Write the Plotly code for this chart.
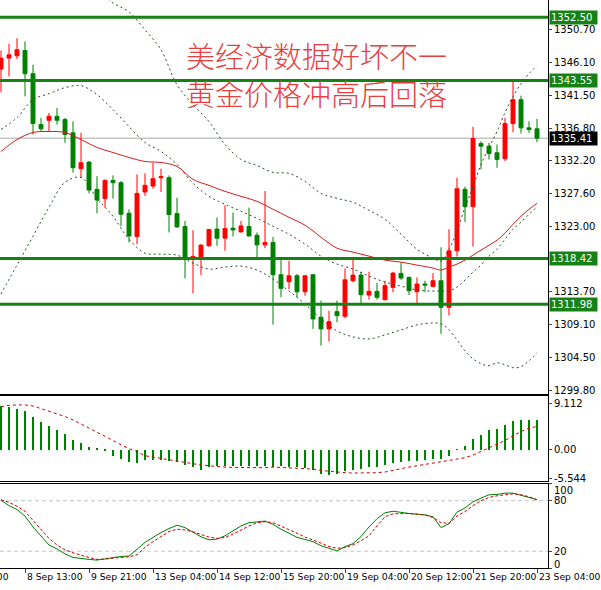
import plotly.graph_objects as go

# H4 candles, bar index 0..67 (red = up, green = down)
opens = [1345.17, 1346.72, 1347.04, 1347.79, 1344.51, 1337.33, 1337.94, 1338.50, 1338.04, 1336.16,
         1331.10, 1332.03, 1328.19, 1326.88, 1329.45, 1329.13, 1324.81, 1321.53, 1327.81, 1328.65,
         1329.83, 1329.83, 1324.77, 1322.94, 1318.43, 1318.66, 1320.21, 1322.58, 1321.29, 1322.70,
         1322.18, 1322.94, 1321.71, 1320.35, 1320.69, 1316.13, 1315.14, 1315.98, 1313.73, 1316.13,
         1310.13, 1308.48, 1310.92, 1310.27, 1315.28, 1316.08, 1313.27, 1313.79, 1312.61, 1314.35,
         1316.32, 1315.76, 1313.73, 1314.82, 1314.49, 1315.28, 1311.54, 1319.50, 1328.19, 1325.75,
         1334.66, 1334.28, 1333.35, 1332.51, 1337.47, 1340.85, 1336.87, 1336.73]
highs = [1347.79, 1348.73, 1349.53, 1349.06, 1345.78, 1338.28, 1338.98, 1339.68, 1338.28, 1337.80,
         1336.16, 1332.17, 1330.06, 1329.60, 1330.16, 1329.35, 1325.37, 1330.30, 1330.44, 1331.94,
         1331.10, 1330.16, 1327.02, 1323.72, 1322.42, 1320.45, 1322.60, 1324.20, 1325.93, 1324.91,
         1323.72, 1325.61, 1322.10, 1327.95, 1321.47, 1318.57, 1318.10, 1316.22, 1316.08, 1316.13,
         1312.47, 1311.06, 1312.47, 1317.02, 1318.34, 1316.55, 1316.55, 1314.96, 1315.28, 1316.55,
         1317.87, 1315.85, 1315.76, 1315.28, 1316.36, 1320.00, 1322.56, 1329.83, 1328.57, 1337.01,
         1334.98, 1334.76, 1334.52, 1338.28, 1343.57, 1341.41, 1337.80, 1338.13]
lows = [1341.88, 1344.13, 1346.58, 1341.32, 1335.93, 1336.39, 1336.39, 1337.33, 1334.76, 1330.54,
        1329.83, 1327.62, 1324.81, 1325.61, 1326.88, 1323.02, 1320.68, 1320.45, 1327.24, 1328.28,
        1327.81, 1322.10, 1322.80, 1315.62, 1313.51, 1316.08, 1320.10, 1320.21, 1319.50, 1321.53,
        1322.10, 1321.53, 1318.34, 1319.88, 1309.09, 1312.95, 1314.11, 1312.95, 1313.17, 1308.48,
        1306.13, 1306.70, 1309.43, 1309.99, 1315.06, 1312.14, 1312.61, 1312.61, 1312.50, 1313.65,
        1315.42, 1313.27, 1312.14, 1313.65, 1314.35, 1307.78, 1310.36, 1318.71, 1323.58, 1320.12,
        1331.00, 1332.41, 1331.24, 1332.17, 1336.25, 1336.07, 1336.16, 1334.84]
closes = [1346.72, 1347.18, 1347.89, 1344.51, 1337.47, 1336.73, 1338.50, 1337.94, 1335.93, 1331.24,
          1331.94, 1328.09, 1326.68, 1329.45, 1329.13, 1324.67, 1321.61, 1327.62, 1328.75, 1329.69,
          1329.97, 1324.63, 1322.88, 1318.43, 1318.72, 1320.31, 1322.52, 1321.29, 1322.65, 1322.46,
          1323.02, 1321.61, 1320.35, 1320.69, 1316.13, 1314.21, 1315.98, 1313.73, 1315.98, 1309.89,
          1308.48, 1309.51, 1310.36, 1315.42, 1316.08, 1313.31, 1313.79, 1312.94, 1314.58, 1316.36,
          1315.66, 1313.87, 1314.82, 1314.68, 1315.28, 1311.54, 1319.50, 1328.28, 1325.75, 1335.36,
          1334.28, 1333.25, 1332.41, 1337.47, 1340.85, 1336.87, 1336.63, 1335.41]
bars = list(range(len(closes)))

# indicator lines at these bars
band_idx = list(range(0, 55, 2)) + list(range(55, 68))
bb_upper = [1359.85, 1359.15, 1360.13, 1357.74, 1355.91, 1355.77, 1356.19, 1354.50, 1353.24, 1350.70,
            1347.89, 1342.96, 1340.15, 1337.75, 1334.52, 1332.41, 1331.56, 1330.58, 1330.44, 1329.31,
            1327.62, 1326.92, 1326.36, 1325.23, 1323.96, 1321.85, 1319.74, 1318.47,
            1318.05, 1319.74, 1322.27, 1325.65, 1328.47, 1331.70, 1334.10, 1336.35, 1339.02, 1341.27,
            1343.10, 1344.51, 1345.64]
bb_mid = [1336.63, 1338.32, 1340.85, 1341.70, 1342.54, 1342.82, 1341.55, 1339.44, 1337.05, 1334.80,
          1333.53, 1331.70, 1329.03, 1327.20, 1326.07, 1325.09, 1324.10, 1322.98, 1321.85, 1320.45,
          1318.76, 1317.63, 1316.93, 1315.94, 1315.10, 1314.53, 1313.97, 1313.83,
          1313.83, 1313.83, 1314.39, 1315.38, 1316.50, 1317.49, 1318.76, 1319.74, 1321.15, 1322.56,
          1323.54, 1324.67, 1325.65]
bb_lower = [1313.41, 1317.49, 1321.57, 1325.65, 1329.17, 1329.87, 1326.92, 1324.39, 1321.15, 1319.18,
            1319.04, 1318.90, 1317.77, 1316.93, 1317.21, 1317.35, 1316.79, 1315.52, 1313.83, 1312.00,
            1309.89, 1308.20, 1307.36, 1307.07, 1307.64, 1308.34, 1309.05, 1309.33,
            1309.19, 1308.34, 1306.93, 1305.38, 1304.26, 1303.56, 1303.28, 1303.70, 1303.42, 1303.00,
            1303.14, 1303.98, 1305.11]
ma_red = [1333.53, 1335.22, 1336.21, 1336.35, 1336.21, 1335.22, 1334.10, 1333.39, 1332.69, 1332.12,
          1331.98, 1331.42, 1329.59, 1328.75, 1327.90, 1327.20, 1326.50, 1325.37, 1324.24, 1323.12,
          1321.43, 1319.88, 1319.32, 1318.76, 1318.19, 1317.91, 1317.49, 1317.07,
          1316.79, 1317.21, 1317.63, 1318.19, 1318.90, 1319.60, 1320.30, 1321.01, 1322.00, 1323.26,
          1324.39, 1325.37, 1326.21]

macd_hist = [8.46, 8.27, 8.01, 7.49, 6.32, 5.40, 4.56, 3.78, 3.13, 1.95,
             1.30, 0.46, 0.20, -0.26, -1.17, -1.82, -2.34, -2.60, -1.95, -2.08,
             -2.08, -2.28, -2.47, -2.93, -3.39, -3.91, -3.39, -3.26, -3.26, -3.26,
             -3.26, -3.26, -3.26, -3.26, -3.35, -3.26, -3.39, -3.39, -3.58, -4.04,
             -4.69, -4.88, -4.75, -4.23, -3.91, -3.78, -3.45, -3.45, -2.93, -2.60,
             -2.41, -2.28, -2.15, -1.95, -1.82, -1.76, -1.30, -0.07, 0.65, 2.08,
             2.93, 3.78, 4.10, 4.88, 5.66, 5.86, 5.86, 5.86]
macd_signal = [8.46, 8.72, 8.79, 8.79, 8.59, 8.07, 7.68, 7.16, 6.51, 5.86,
               5.08, 4.23, 3.39, 2.60, 1.82, 0.98, 0.20, -0.33, -1.17, -1.43,
               -1.69, -1.95, -2.28, -2.47, -2.73, -2.99, -3.13, -3.32, -3.39, -3.45,
               -3.45, -3.52, -3.58, -3.52, -3.39, -3.45, -3.45, -3.52, -3.58, -3.78,
               -4.04, -4.23, -4.43, -4.49, -4.56, -4.56, -4.56, -4.49, -4.36, -4.04,
               -3.58, -3.39, -3.13, -2.86, -2.60, -2.34, -2.08, -1.82, -1.56, -1.04,
               -0.33, 0.33, 0.98, 1.82, 2.73, 3.58, 4.23, 4.56]
stoch_main = [80.4, 74.2, 69.5, 61.7, 48.8, 37.5, 27.4, 22.7, 16.9, 12.6,
              11.0, 10.3, 9.5, 11.0, 12.6, 13.8, 14.2, 22.7, 30.5, 36.4,
              42.2, 46.9, 50.8, 48.1, 42.2, 37.1, 33.6, 34.4, 38.3, 44.2,
              50.0, 53.9, 54.7, 55.8, 51.9, 46.1, 41.4, 36.4, 34.0, 31.3,
              26.6, 23.1, 20.4, 25.5, 29.0, 37.5, 48.8, 58.6, 65.6, 67.5,
              66.0, 64.8, 64.0, 63.2, 60.9, 48.1, 52.7, 66.4, 71.4, 78.8,
              83.1, 87.0, 87.4, 89.0, 89.0, 86.6, 84.3, 81.2]
stoch_signal = [81.2, 78.0, 73.4, 67.5, 56.6, 46.1, 35.2, 27.4, 21.6, 18.1,
                14.9, 12.6, 10.3, 10.6, 11.8, 13.0, 13.4, 15.7, 24.7, 31.3,
                37.5, 43.4, 46.1, 45.3, 43.0, 40.3, 36.8, 35.2, 36.4, 40.3,
                45.3, 50.0, 53.9, 55.1, 53.9, 50.0, 45.3, 41.4, 36.8, 33.6,
                29.7, 25.5, 23.5, 24.3, 27.4, 32.5, 38.3, 50.0, 60.9, 64.4,
                64.8, 64.8, 64.0, 62.9, 60.1, 53.9, 53.1, 61.7, 67.1, 74.2,
                80.0, 83.9, 85.8, 87.4, 88.2, 87.0, 84.7, 81.2]

tick_idx = [3, 11, 19, 27, 35, 43, 51, 59, 67]
tick_text = ["8 Sep 13:00", "9 Sep 21:00", "13 Sep 04:00", "14 Sep 12:00", "15 Sep 20:00",
             "19 Sep 04:00", "20 Sep 12:00", "21 Sep 20:00", "23 Sep 04:00"]
price_ticks = [1350.70, 1346.10, 1341.50, 1336.80, 1332.20, 1327.60, 1323.00,
               1313.70, 1309.10, 1304.50, 1299.80]
levels = [1352.50, 1343.55, 1318.42, 1311.98]
last_price = 1335.41
stoch_ticks = [80, 20]
title_lines = ["美经济数据好坏不一", "黄金价格冲高后回落"]

RED = "#ff0000"
GREEN = "#008000"
LEVEL_GREEN = "#168216"
H = 590.0
FONT = "DejaVu Sans"

fig = go.Figure()

fig.add_trace(go.Candlestick(
    x=bars, open=opens, high=highs, low=lows, close=closes,
    increasing=dict(line=dict(color=RED, width=1), fillcolor=RED),
    decreasing=dict(line=dict(color=GREEN, width=1), fillcolor=GREEN),
    whiskerwidth=0, hoverinfo="skip", xaxis="x", yaxis="y"))

for band in (bb_upper, bb_mid, bb_lower):
    fig.add_trace(go.Scatter(x=band_idx, y=band, mode="lines", line_shape="spline",
                             line=dict(color="#2a4f2a", width=1, dash="2px,3px"),
                             hoverinfo="skip", xaxis="x", yaxis="y"))
fig.add_trace(go.Scatter(x=band_idx, y=ma_red, mode="lines", line_shape="spline",
                         line=dict(color="#d81e1e", width=1), hoverinfo="skip",
                         xaxis="x", yaxis="y"))

fig.add_trace(go.Bar(x=bars, y=macd_hist, width=0.13, marker=dict(color=GREEN, line=dict(width=0)),
                     hoverinfo="skip", xaxis="x2", yaxis="y2"))
fig.add_trace(go.Scatter(x=bars, y=macd_signal, mode="lines",
                         line=dict(color="#d00000", width=1, dash="dot"),
                         hoverinfo="skip", xaxis="x2", yaxis="y2"))

fig.add_trace(go.Scatter(x=bars, y=stoch_main, mode="lines",
                         line=dict(color=GREEN, width=1), hoverinfo="skip",
                         xaxis="x3", yaxis="y3"))
fig.add_trace(go.Scatter(x=bars, y=stoch_signal, mode="lines",
                         line=dict(color="#d00000", width=1, dash="3px,2px"),
                         hoverinfo="skip", xaxis="x3", yaxis="y3"))

shapes = []
for lv in levels:
    shapes.append(dict(type="line", xref="paper", yref="y", x0=0, x1=1, y0=lv, y1=lv,
                       line=dict(color=LEVEL_GREEN, width=3)))
shapes.append(dict(type="line", xref="paper", yref="y", x0=0, x1=1, y0=last_price, y1=last_price,
                   line=dict(color="#a8a8a8", width=1), layer="below"))
for lv in stoch_ticks:
    shapes.append(dict(type="line", xref="paper", yref="y3", x0=0, x1=1, y0=lv, y1=lv,
                       line=dict(color="#c4c4c4", width=1, dash="4px,3px"), layer="below"))

annotations = []
annotations.append(dict(xref="paper", yref="paper", x=316 / 548, y=1 - 74 / H,
                        text="<br>".join(title_lines), showarrow=False,
                        xanchor="center", yanchor="middle", align="center",
                        font=dict(family="Noto Sans CJK SC", size=29, color="#e8403f",
                                  weight=300)))
for lv in levels:
    annotations.append(dict(xref="paper", yref="y", x=1, y=lv, xanchor="left", yanchor="middle",
                            text=f"{lv:.2f}", showarrow=False, xshift=1, width=45, align="left",
                            bgcolor=LEVEL_GREEN, borderpad=1,
                            font=dict(family=FONT, size=10, color="white")))
annotations.append(dict(xref="paper", yref="y", x=1, y=last_price, xanchor="left", yanchor="middle",
                        text=f"{last_price:.2f}", showarrow=False, xshift=1, width=45, align="left",
                        bgcolor="black", borderpad=1,
                        font=dict(family=FONT, size=10, color="white")))
for k, t in zip(tick_idx, tick_text):
    annotations.append(dict(xref="x3", yref="paper", x=k, y=1 - 578 / H, text=t, showarrow=False,
                            xanchor="left", yanchor="middle", xshift=0,
                            font=dict(family=FONT, size=9.2, color="black")))
annotations.append(dict(xref="paper", yref="paper", x=11 / 548, y=1 - 578 / H, text="7 Sep 05:00",
                        showarrow=False, xanchor="right", yanchor="middle",
                        font=dict(family=FONT, size=9.2, color="black")))
# top and bottom stochastic labels sit just inside the panel edges
annotations.append(dict(xref="paper", yref="paper", x=1, y=1 - 492 / H, text="100",
                        showarrow=False, xanchor="left", yanchor="middle", xshift=4,
                        font=dict(family=FONT, size=10, color="black")))
annotations.append(dict(xref="paper", yref="paper", x=1, y=1 - 566 / H, text="0",
                        showarrow=False, xanchor="left", yanchor="middle", xshift=4,
                        font=dict(family=FONT, size=10, color="black")))

axis_common = dict(showgrid=False, zeroline=False, linecolor="black", linewidth=1, showline=True)
xr = [-0.125, 68.375]

fig.update_layout(
    width=601, height=590, margin=dict(l=0, r=53, t=0, b=0),
    plot_bgcolor="white", paper_bgcolor="white", showlegend=False,
    font=dict(family=FONT, size=10, color="black"),
    bargap=0,
    xaxis=dict(domain=[0, 1], range=xr, anchor="y", showticklabels=False, ticks="",
               rangeslider=dict(visible=False), **axis_common),
    xaxis2=dict(domain=[0, 1], range=xr, anchor="y2", matches="x", showticklabels=False,
                ticks="", mirror=True, **axis_common),
    xaxis3=dict(domain=[0, 1], range=xr, anchor="y3", matches="x", showticklabels=False,
                ticks="outside", ticklen=4, tickvals=tick_idx, mirror=True, **axis_common),
    yaxis=dict(domain=[1 - 395 / H, 1], range=[1299.34, 1354.92], side="right", anchor="x",
               tickvals=price_ticks, ticktext=[f"{p:.2f}" for p in price_ticks],
               ticks="outside", ticklen=3, **axis_common),
    yaxis2=dict(domain=[1 - 483 / H, 1 - 397.5 / H], range=[-6.19, 10.51], side="right",
                anchor="x2", tickvals=[9.112, 0, -5.544], ticktext=["9.112", "0.00", "-5.544"],
                ticks="outside", ticklen=3, **axis_common),
    yaxis3=dict(domain=[1 - 570 / H, 1 - 485.5 / H], range=[0, 100], side="right", anchor="x3",
                tickvals=[100, 80, 20, 0], ticktext=["", "80", "20", ""],
                ticks="outside", ticklen=3, **axis_common),
    shapes=shapes, annotations=annotations)

fig.write_html("out.html", config={"displayModeBar": False},
               post_script="document.body.style.margin='0px';")
